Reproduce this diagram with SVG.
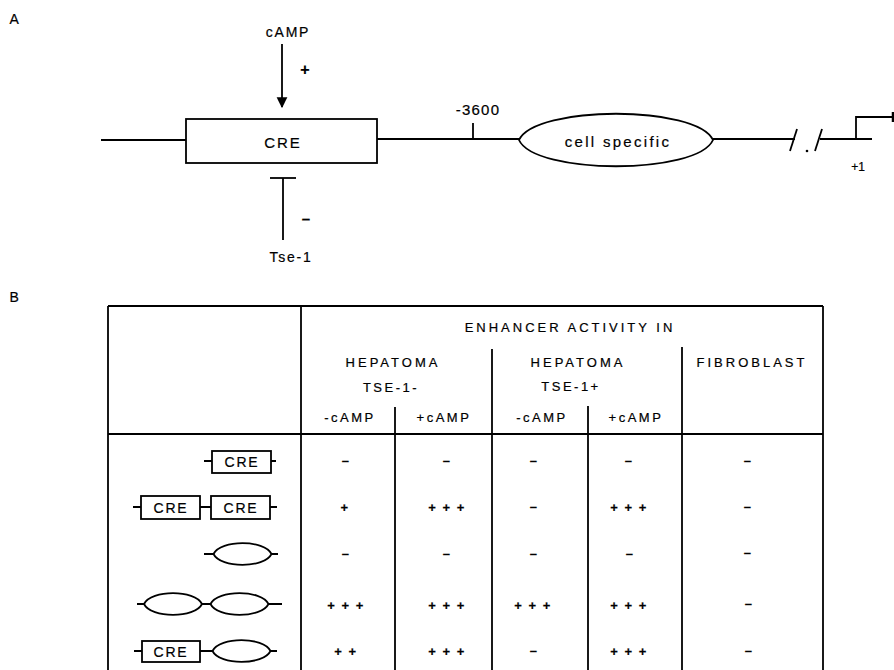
<svg xmlns="http://www.w3.org/2000/svg" width="894" height="670" viewBox="0 0 894 670">
<style>
  .ln { stroke: #000; stroke-width: 1.8; fill: none; }
  .box { stroke: #000; stroke-width: 1.8; fill: #fff; }
  .t { font-family: "Liberation Sans", Arial, sans-serif; fill: #000; stroke: #000; stroke-width: 0.2; text-anchor: middle; dominant-baseline: central; }
  .lbl { font-size: 14px; letter-spacing: 1.8px; }
  .hd { font-size: 13px; letter-spacing: 3px; }
  .sub { font-size: 13px; letter-spacing: 2.5px; }
  .val { font-size: 13px; letter-spacing: 1.5px; font-weight: bold; }
</style>
<defs>
  <path id="ell" d="M-29,0 C-22,-14.5 22,-14.5 29,0 C22,14.5 -22,14.5 -29,0 Z"/>
  <marker id="arr" viewBox="0 0 10 10" refX="9" refY="5" markerWidth="6" markerHeight="8" markerUnits="strokeWidth" orient="auto">
    <path d="M0,0 L10,5 L0,10 Z" fill="#000"/>
  </marker>
</defs>
<rect width="894" height="670" fill="#fff"/>

<text class="t lbl" x="15" y="19">A</text>
<text class="t lbl" x="15" y="297">B</text>

<!-- Part A -->
<g id="connectors">
  <line class="ln" x1="101" y1="140" x2="186" y2="140"/>
  <line class="ln" x1="377" y1="139" x2="519" y2="139"/>
  <line class="ln" x1="713" y1="139" x2="795" y2="139"/>
  <line class="ln" x1="820" y1="139" x2="872" y2="139"/>
  <line class="ln" x1="282" y1="44" x2="282" y2="107" marker-end="url(#arr)"/>
  <line class="ln" x1="283" y1="178" x2="283" y2="240"/>
  <line class="ln" x1="270" y1="178" x2="296" y2="178"/>
</g>

<g id="camp">
  <text class="t lbl" x="288" y="32">cAMP</text>
  <text class="t" style="font-size:16px;font-weight:bold" x="305" y="69">+</text>
</g>

<g id="cre">
  <rect class="box" x="186" y="119" width="191" height="44"/>
  <text class="t" style="font-size:15px;letter-spacing:2px" x="283" y="142">CRE</text>
</g>

<g id="tse1">
  <text class="t" style="font-size:15px;font-weight:bold" x="306" y="218">–</text>
  <text class="t lbl" x="291" y="257">Tse-1</text>
</g>

<g id="pos3600">
  <line class="ln" x1="473" y1="123" x2="473" y2="139"/>
  <text class="t" style="font-size:15px;letter-spacing:1.2px" x="478" y="109">-3600</text>
</g>

<g id="cellspecific">
  <path class="box" d="M519,140 C535,105 697,105 713,140 C697,175 535,175 519,140 Z"/>
  <text class="t" style="font-size:15px;letter-spacing:2.3px" x="618" y="141">cell specific</text>
</g>

<g id="break">
  <line class="ln" x1="790" y1="151" x2="797" y2="129"/>
  <circle cx="807" cy="151" r="1.3" fill="#000"/>
  <line class="ln" x1="815" y1="151" x2="822" y2="129"/>
</g>

<g id="start">
  <path class="ln" d="M856,139 V117 H893"/>
  <line x1="893" y1="112" x2="893" y2="122" stroke="#000" stroke-width="2.5"/>
  <text class="t" style="font-size:12px" x="858" y="167">+1</text>
</g>

<!-- Part B: table -->
<g id="table">
  <line class="ln" x1="108" y1="306" x2="823" y2="306"/>
  <line class="ln" x1="108" y1="434" x2="823" y2="434"/>
  <line class="ln" x1="108" y1="306" x2="108" y2="670"/>
  <line class="ln" x1="301" y1="306" x2="301" y2="670"/>
  <line class="ln" x1="823" y1="306" x2="823" y2="670"/>
  <line class="ln" x1="492" y1="349" x2="492" y2="670"/>
  <line class="ln" x1="682" y1="347" x2="682" y2="670"/>
  <line class="ln" x1="395" y1="407" x2="395" y2="670"/>
  <line class="ln" x1="588" y1="406" x2="588" y2="670"/>

  <text class="t hd" x="570" y="327">ENHANCER ACTIVITY IN</text>
  <text class="t hd" x="393" y="362">HEPATOMA</text>
  <text class="t sub" x="391" y="387">TSE-1-</text>
  <text class="t hd" x="578" y="362">HEPATOMA</text>
  <text class="t sub" x="571" y="386">TSE-1+</text>
  <text class="t hd" x="752" y="362">FIBROBLAST</text>
  <text class="t sub" x="350" y="417">-cAMP</text>
  <text class="t sub" x="444" y="417">+cAMP</text>
  <text class="t sub" x="542" y="417">-cAMP</text>
  <text class="t sub" x="636" y="417">+cAMP</text>
</g>

<g id="row1">
  <line class="ln" x1="204" y1="461" x2="276" y2="461"/>
  <rect class="box" x="212" y="451" width="59" height="22"/>
  <text class="t lbl" x="242" y="462">CRE</text>
  <text class="t val" x="346" y="460">–</text>
  <text class="t val" x="447" y="460">–</text>
  <text class="t val" x="534" y="460">–</text>
  <text class="t val" x="629" y="460">–</text>
  <text class="t val" x="748" y="460">–</text>
</g>

<g id="row2">
  <line class="ln" x1="133" y1="507" x2="277" y2="507"/>
  <rect class="box" x="141" y="496" width="59" height="23"/>
  <rect class="box" x="211" y="496" width="59" height="23"/>
  <text class="t lbl" x="171" y="508">CRE</text>
  <text class="t lbl" x="241" y="508">CRE</text>
  <text class="t val" x="345" y="507">+</text>
  <text class="t val" x="447" y="507">+ + +</text>
  <text class="t val" x="534" y="506">–</text>
  <text class="t val" x="629" y="507">+ + +</text>
  <text class="t val" x="748" y="506">–</text>
</g>

<g id="row3">
  <line class="ln" x1="204" y1="554" x2="278" y2="554"/>
  <use href="#ell" class="box" transform="translate(242.5,554)"/>
  <text class="t val" x="346" y="553">–</text>
  <text class="t val" x="447" y="553">–</text>
  <text class="t val" x="534" y="553">–</text>
  <text class="t val" x="630" y="553">–</text>
  <text class="t val" x="748" y="552">–</text>
</g>

<g id="row4">
  <line class="ln" x1="137" y1="604" x2="282" y2="604"/>
  <use href="#ell" class="box" transform="translate(173,604)"/>
  <use href="#ell" class="box" transform="translate(239.5,604)"/>
  <text class="t val" x="346" y="605">+ + +</text>
  <text class="t val" x="447" y="605">+ + +</text>
  <text class="t val" x="533" y="605">+ + +</text>
  <text class="t val" x="629" y="605">+ + +</text>
  <text class="t val" x="749" y="603">–</text>
</g>

<g id="row5">
  <line class="ln" x1="134" y1="651" x2="277" y2="651"/>
  <rect class="box" x="142" y="641" width="58" height="21"/>
  <text class="t lbl" x="171" y="652">CRE</text>
  <use href="#ell" class="box" transform="translate(241.5,651)"/>
  <text class="t val" x="346" y="651">+ +</text>
  <text class="t val" x="447" y="651">+ + +</text>
  <text class="t val" x="534" y="650">–</text>
  <text class="t val" x="629" y="651">+ + +</text>
  <text class="t val" x="749" y="650">–</text>
</g>
</svg>
